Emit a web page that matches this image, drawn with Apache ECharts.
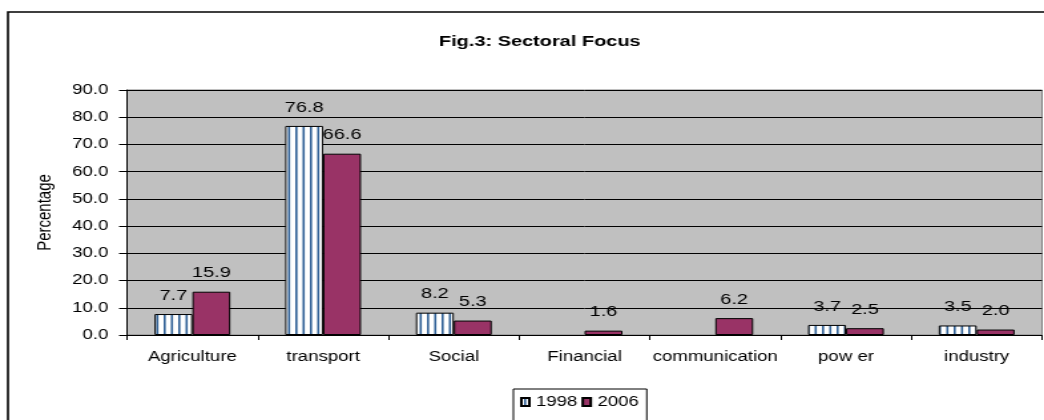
<!DOCTYPE html>
<html>
<head>
<meta charset="utf-8">
<title>Fig.3: Sectoral Focus</title>
<script src="https://cdn.jsdelivr.net/npm/echarts@6/dist/echarts.min.js"></script>
<style>
  html, body { margin: 0; padding: 0; background: #fff; overflow: hidden; }
  /* the source picture is stretched sideways, so the chart is drawn narrow and scaled */
  #chart { width: 785px; height: 420px; transform: scaleX(1.33); transform-origin: 0 0; }
</style>
</head>
<body>
<div id="chart"></div>
<script>
const sectors = ['Agriculture', 'transport', 'Social', 'Financial', 'communication', 'pow er', 'industry'];
const values1998 = [7.7, 76.8, 8.2, null, null, 3.7, 3.5];
const values2006 = [15.9, 66.6, 5.3, 1.6, 6.2, 2.5, 2.0];
const yTicks = [0, 10, 20, 30, 40, 50, 60, 70, 80, 90];

// vertical stripe fill for 1998
const stripe = document.createElement('canvas');
stripe.width = 11;
stripe.height = 4;
const ctx = stripe.getContext('2d');
ctx.fillStyle = '#ffffff';
ctx.fillRect(0, 0, 11, 4);
ctx.fillStyle = '#2F6096';
ctx.fillRect(2, 0, 1.6, 4);
ctx.fillRect(7.5, 0, 1.6, 4);

const chart = echarts.init(document.getElementById('chart'));
const font = 'Arial, "Liberation Sans", sans-serif';

const labelOpt = {
  show: true,
  position: 'top',
  distance: 11,
  color: '#000',
  fontSize: 15,
  fontFamily: font,
  formatter: p => (p.value == null ? '' : Number(p.value).toFixed(1))
};

const option = {
  animation: false,
  backgroundColor: '#fff',
  textStyle: { fontFamily: font },
  title: {
    text: 'Fig.3: Sectoral Focus',
    left: 325,
    top: 29,
    textStyle: { fontSize: 15, fontWeight: 'bold', color: '#000', fontFamily: font }
  },
  graphic: [{
    type: 'rect',
    shape: { x: 6, y: 12, width: 900, height: 500 },
    style: { fill: 'none', stroke: '#000', lineWidth: 1.6 },
    z: -1
  }],
  legend: {
    left: 386,
    top: 389,
    padding: [6, 6, 14, 5],
    itemGap: 3,
    itemWidth: 6,
    itemHeight: 8,
    icon: 'rect',
    backgroundColor: '#fff',
    borderColor: '#000',
    borderWidth: 1,
    textStyle: { fontSize: 14, color: '#000', fontFamily: font },
    data: ['1998', '2006']
  },
  grid: {
    left: 95.5,
    right: 1.5,
    top: 90,
    bottom: 85,
    show: true,
    backgroundColor: '#C0C0C0',
    borderColor: '#808080',
    borderWidth: 1
  },
  xAxis: {
    type: 'category',
    data: sectors,
    axisLine: { lineStyle: { color: '#000', width: 1 } },
    axisTick: { show: true, length: 5, lineStyle: { color: '#000' } },
    axisLabel: { color: '#000', fontSize: 14, margin: 15, interval: 0, fontFamily: font }
  },
  yAxis: {
    type: 'value',
    min: yTicks[0],
    max: yTicks[yTicks.length - 1],
    interval: 10,
    name: 'Percentage',
    nameLocation: 'middle',
    nameGap: 54,
    nameTextStyle: { fontSize: 15, color: '#000', fontFamily: font },
    axisLine: { show: true, lineStyle: { color: '#000', width: 1 } },
    axisTick: { show: true, length: 6, lineStyle: { color: '#000' } },
    axisLabel: {
      color: '#000',
      fontSize: 14,
      margin: 14,
      fontFamily: font,
      formatter: v => v.toFixed(1)
    },
    splitLine: { show: true, lineStyle: { color: '#000', width: 1 } }
  },
  series: [
    {
      name: '1998',
      type: 'bar',
      data: values1998,
      barGap: '0%',
      barCategoryGap: '42%',
      itemStyle: { color: { image: stripe, repeat: 'repeat' }, borderColor: '#000', borderWidth: 1 },
      label: labelOpt
    },
    {
      name: '2006',
      type: 'bar',
      data: values2006,
      barGap: '0%',
      barCategoryGap: '42%',
      itemStyle: { color: '#993366', borderColor: '#000', borderWidth: 1 },
      label: labelOpt
    }
  ]
};

chart.setOption(option);
window.addEventListener('resize', () => chart.resize());
</script>
</body>
</html>
